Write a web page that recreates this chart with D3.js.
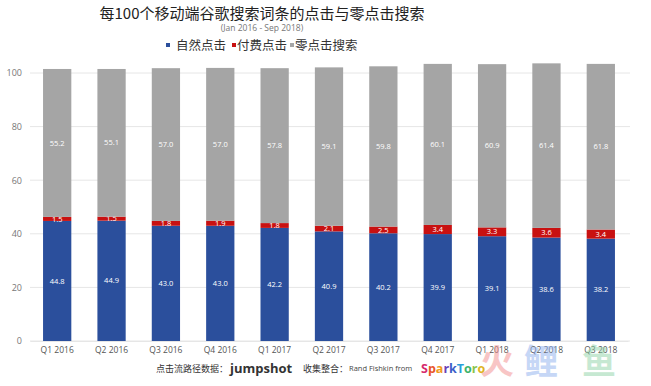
<!doctype html>
<html lang="zh">
<head>
<meta charset="UTF-8">
<title>零点击搜索</title>
<script src="https://cdnjs.cloudflare.com/ajax/libs/d3/7.8.5/d3.min.js"></script>
<style>
  body { margin: 0; background: #fff; }
  text { font-family: "Open Sans", "Noto Sans CJK SC", sans-serif; }
  .cjk { font-family: "Noto Sans CJK SC", sans-serif; }
</style>
</head>
<body>
<svg id="chart" width="651" height="386"></svg>
<script>
// data
var quarters = ['Q1 2016', 'Q2 2016', 'Q3 2016', 'Q4 2016', 'Q1 2017', 'Q2 2017',
                'Q3 2017', 'Q4 2017', 'Q1 2018', 'Q2 2018', 'Q3 2018'];
var organic = [44.8, 44.9, 43.0, 43.0, 42.2, 40.9, 40.2, 39.9, 39.1, 38.6, 38.2];
var paid    = [1.5, 1.5, 1.8, 1.9, 1.8, 2.1, 2.5, 3.4, 3.3, 3.6, 3.4];
var zero    = [55.2, 55.1, 57.0, 57.0, 57.8, 59.1, 59.8, 60.1, 60.9, 61.4, 61.8];
var yTicks  = [0, 20, 40, 60, 80, 100];
var seriesNames = ['自然点击', '付费点击', '零点击搜索'];
var colors = ['#2b4f9c', '#c81111', '#a5a5a5'];

var svg = d3.select('#chart');

var x = d3.scaleBand().domain(quarters).range([30, 628]).paddingInner(0.48).paddingOuter(0.24);
var y = d3.scaleLinear().domain([0, 100]).range([341, 73]);

// grid
svg.append('g').selectAll('line').data(yTicks).enter().append('line')
    .attr('x1', 30).attr('x2', 630)
    .attr('y1', function (d) { return y(d); })
    .attr('y2', function (d) { return y(d); })
    .attr('stroke', '#e6e6e6').attr('stroke-width', 1);

// y axis labels
var yAxis = d3.axisLeft(y).tickValues(yTicks).tickSize(0).tickPadding(0);
svg.append('g').attr('transform', 'translate(22,0)').call(yAxis)
    .call(function (g) { g.select('.domain').remove(); })
    .selectAll('text').attr('fill', '#777').attr('font-size', '9px');

// stacked bars
var rows = quarters.map(function (q, i) {
    return { q: q, organic: organic[i], paid: paid[i], zero: zero[i] };
});
var stack = d3.stack().keys(['organic', 'paid', 'zero'])(rows);

var layers = svg.append('g').selectAll('g').data(stack).enter().append('g')
    .attr('fill', function (d, i) { return colors[i]; });

layers.selectAll('rect').data(function (d) { return d; }).enter().append('rect')
    .attr('x', function (d) { return x(d.data.q); })
    .attr('width', x.bandwidth())
    .attr('y', function (d) { return y(d[1]); })
    .attr('height', function (d) { return y(d[0]) - y(d[1]); });

layers.selectAll('text').data(function (d) { return d; }).enter().append('text')
    .attr('x', function (d) { return x(d.data.q) + x.bandwidth() / 2; })
    .attr('y', function (d) { return (y(d[0]) + y(d[1])) / 2; })
    .attr('dy', '0.35em')
    .attr('text-anchor', 'middle')
    .attr('fill', '#fff')
    .attr('font-size', '7.5px')
    .text(function (d) { return (d[1] - d[0]).toFixed(1); });

// x axis
var xAxis = d3.axisBottom(x).tickSize(0).tickPadding(6);
svg.append('g').attr('transform', 'translate(0,341)').call(xAxis)
    .call(function (g) { g.select('.domain').attr('stroke', '#e6e6e6'); })
    .selectAll('text').attr('fill', '#555').attr('font-size', '8.5px');

// title
svg.append('text').attr('class', 'cjk').attr('x', 262).attr('y', 19)
    .attr('text-anchor', 'middle').attr('font-size', '15px').attr('fill', '#222')
    .text('每100个移动端谷歌搜索词条的点击与零点击搜索');
svg.append('text').attr('x', 262).attr('y', 31)
    .attr('text-anchor', 'middle').attr('font-size', '8.5px').attr('fill', '#777')
    .text('(Jan 2016 - Sep 2018)');

// legend
var legendX = [166, 232, 290];
var lg = svg.append('g').selectAll('g').data(seriesNames).enter().append('g')
    .attr('transform', function (d, i) { return 'translate(' + legendX[i] + ',46)'; });
lg.append('rect').attr('x', 0).attr('y', -3).attr('width', 4).attr('height', 4)
    .attr('fill', function (d, i) { return colors[i]; });
lg.append('text').attr('class', 'cjk').attr('x', function (d, i) { return i === 0 ? 10 : 5; })
    .attr('dy', '0.35em').attr('font-size', '12.5px').attr('fill', '#333')
    .text(function (d) { return d; });

// footer
var foot = svg.append('g');
foot.append('text').attr('class', 'cjk').attr('x', 156).attr('y', 372)
    .attr('font-size', '9px').attr('fill', '#333').text('点击流路径数据：');
foot.append('text').attr('x', 230).attr('y', 373)
    .attr('font-size', '13px').attr('font-weight', 'bold').attr('fill', '#333').text('jumpshot');
foot.append('text').attr('class', 'cjk').attr('x', 303).attr('y', 372)
    .attr('font-size', '9px').attr('fill', '#333').text('收集整合：');
foot.append('text').attr('x', 349).attr('y', 371)
    .attr('font-size', '7.5px').attr('fill', '#444').text('Rand Fishkin from');
var spark = foot.append('text').attr('x', 421).attr('y', 373)
    .attr('font-size', '12.5px').attr('font-weight', 'bold');
var sparkColors = ['#d62b6e', '#e8552b', '#f19b1c', '#6a3fb5', '#3a5ec8', '#2a9fd8', '#3db36b', '#8bc34a', '#e0b323'];
'SparkToro'.split('').forEach(function (c, i) {
    spark.append('tspan').attr('fill', sparkColors[i]).text(c);
});

// watermark
var wm = svg.append('g').attr('class', 'cjk').attr('font-size', '34px').attr('font-weight', 'bold')
    .attr('opacity', 0.5);
wm.append('text').attr('x', 480).attr('y', 374).attr('fill', '#f28c8c').text('火');
wm.append('text').attr('x', 524).attr('y', 374).attr('fill', '#8fb0ee').text('鲤');
wm.append('text').attr('x', 582).attr('y', 374).attr('fill', '#8fd3a6').text('鱼');
</script>
</body>
</html>
